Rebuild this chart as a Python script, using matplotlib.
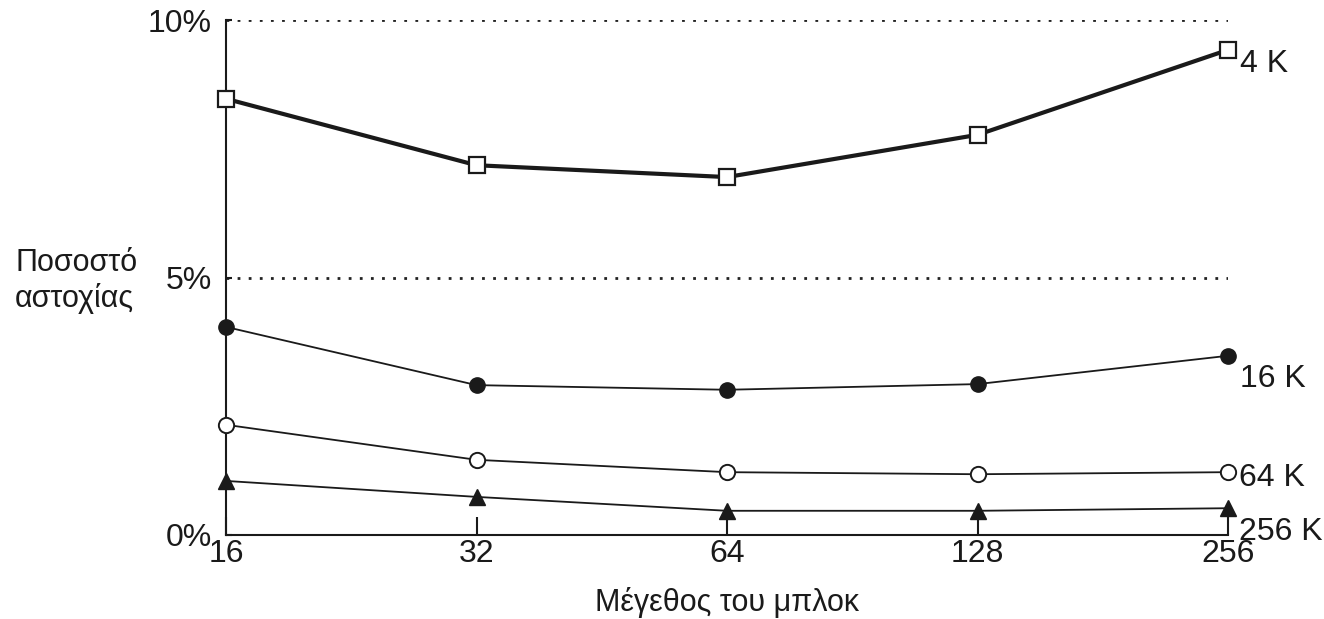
import matplotlib.pyplot as plt

plt.rcParams['font.family'] = ['Liberation Sans', 'DejaVu Sans']

block_sizes = [16, 32, 64, 128, 256]
miss_4k = [8.47, 7.18, 6.95, 7.77, 9.42]
miss_16k = [4.04, 2.91, 2.82, 2.93, 3.48]
miss_64k = [2.14, 1.46, 1.22, 1.18, 1.22]
miss_256k = [1.05, 0.74, 0.47, 0.47, 0.52]
cache_labels = ['4 K', '16 K', '64 K', '256 K']

fig = plt.figure(figsize=(13.24, 6.19), dpi=100)
ax = fig.add_axes([226 / 1324, 1 - 535 / 619, (1228 - 226) / 1324, (535 - 20) / 619])

ax.set_xscale('log', base=2)
ax.set_xlim(16, 256)
ax.set_ylim(0, 10)

# dotted reference lines
for yv in (5, 10):
    ax.plot([16, 256], [yv, yv], color='#222222', linestyle=(0, (1, 3)), lw=2, zorder=1)

ax.plot(block_sizes, miss_4k, color='#1a1a1a', lw=3, marker='s', markersize=11,
        markerfacecolor='white', markeredgecolor='#1a1a1a', markeredgewidth=1.6, clip_on=False, zorder=3)
ax.plot(block_sizes, miss_16k, color='#1a1a1a', lw=1.3, marker='o', markersize=11,
        markerfacecolor='#1a1a1a', markeredgecolor='#1a1a1a', clip_on=False, zorder=3)
ax.plot(block_sizes, miss_64k, color='#1a1a1a', lw=1.3, marker='o', markersize=11,
        markerfacecolor='white', markeredgecolor='#1a1a1a', markeredgewidth=1.4, clip_on=False, zorder=3)
ax.plot(block_sizes, miss_256k, color='#1a1a1a', lw=1.3, marker='^', markersize=11,
        markerfacecolor='#1a1a1a', markeredgecolor='#1a1a1a', clip_on=False, zorder=3)

# series labels at the right end
offsets = [(9, -10), (9, -17), (8, -4), (8, -17)]
for series, lab, off in zip([miss_4k, miss_16k, miss_64k, miss_256k], cache_labels, offsets):
    ax.annotate(lab, (block_sizes[-1], series[-1]), textcoords='offset points', xytext=off,
                ha='left', va='center', fontsize=23, color='#1a1a1a', annotation_clip=False)

ax.spines['top'].set_visible(False)
ax.spines['right'].set_visible(False)
for s in ('left', 'bottom'):
    ax.spines[s].set_linewidth(1.5)
    ax.spines[s].set_color('#1a1a1a')

ax.set_xticks(block_sizes)
ax.set_xticklabels([str(b) for b in block_sizes])
ax.minorticks_off()
ax.set_yticks([0, 5, 10])
ax.set_yticklabels(['0%', '5%', '10%'])
ax.tick_params(axis='x', direction='in', length=13, width=1.5, pad=3, labelsize=23, colors='#1a1a1a')
ax.tick_params(axis='y', direction='in', length=4, width=1.5, pad=10, labelsize=23, colors='#1a1a1a')

fig.text(15 / 1324, 1 - 281 / 619, 'Ποσοστό\nαστοχίας', ha='left', va='center',
         fontsize=22, color='#1a1a1a', linespacing=1.2)
fig.text(727 / 1324, 1 - 603 / 619, 'Μέγεθος του μπλοκ', ha='center', va='center',
         fontsize=22, color='#1a1a1a')

fig.savefig('out.png', dpi=100)
